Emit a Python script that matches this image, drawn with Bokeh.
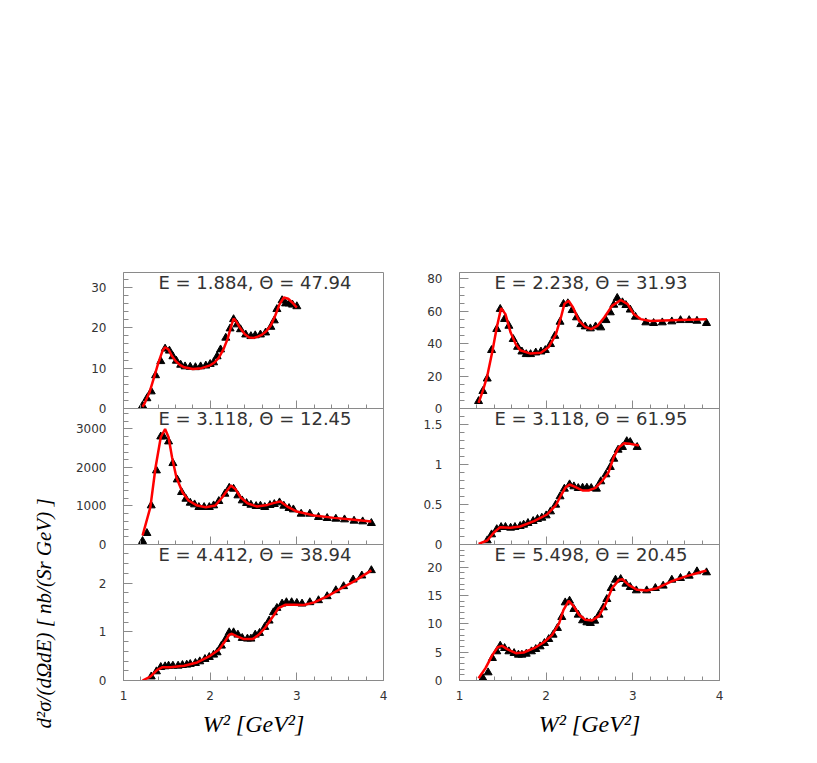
import math
from bokeh.plotting import figure
from bokeh.layouts import column, row
from bokeh.models import SingleIntervalTicker, Label, NumeralTickFormatter
from bokeh.embed import file_html
from bokeh.resources import INLINE

# ---------------- data ----------------
titles = ["E = 1.884,  \u0398 = 47.94", "E = 2.238,  \u0398 = 31.93",
          "E = 3.118,  \u0398 = 12.45", "E = 3.118,  \u0398 = 61.95",
          "E = 4.412,  \u0398 = 38.94", "E = 5.498,  \u0398 = 20.45"]
x_label = "W\u00b2 [GeV\u00b2]"
y_label = "d\u00b2\u03c3/(d\u03a9dE) [ nb/(Sr GeV) ]"

# panel 1 (E=1.884)
tl_w2 = [1.22, 1.27, 1.32, 1.37, 1.43, 1.48, 1.53, 1.57, 1.61, 1.66, 1.71, 1.77, 1.83, 1.89, 1.95, 2.00, 2.04,
         2.08, 2.12, 2.18, 2.23, 2.27, 2.31, 2.35, 2.41, 2.47, 2.52, 2.58, 2.64, 2.70, 2.74, 2.77, 2.83, 2.87,
         2.91, 2.95, 3.00]
tl_xs = [0.7, 2.5, 4.2, 8.2, 11.7, 14.8, 14.3, 12.9, 11.8, 10.8, 10.4, 10.3, 10.2, 10.4, 10.6, 11.0, 11.4,
         12.9, 14.6, 17.5, 19.8, 22.1, 20.8, 19.6, 18.3, 17.9, 18.1, 18.3, 18.8, 20.2, 21.8, 24.6, 26.8, 26.0,
         26.0, 25.7, 25.3]
tl_fit_w2 = [1.22, 1.25, 1.30, 1.35, 1.40, 1.45, 1.48, 1.52, 1.56, 1.60, 1.65, 1.70, 1.80, 1.90, 2.00, 2.05,
             2.10, 2.15, 2.20, 2.24, 2.27, 2.30, 2.35, 2.40, 2.45, 2.50, 2.55, 2.60, 2.65, 2.70, 2.75, 2.80,
             2.85, 2.90, 2.95, 3.00]
tl_fit = [0.4, 1.6, 4.0, 7.5, 11.2, 14.3, 15.2, 14.6, 13.0, 11.8, 10.8, 10.2, 9.8, 10.0, 10.7, 11.4, 12.6,
          14.5, 17.2, 20.2, 22.3, 21.6, 19.8, 18.4, 17.6, 17.5, 17.8, 18.3, 19.2, 20.6, 23.0, 25.8, 27.5,
          27.2, 26.2, 25.0]

# panel 2 (E=2.238)
tr_w2 = [1.22, 1.27, 1.32, 1.37, 1.43, 1.47, 1.52, 1.57, 1.62, 1.67, 1.72, 1.77, 1.82, 1.88, 1.94, 1.99,
         2.05, 2.10, 2.16, 2.20, 2.25, 2.30, 2.35, 2.40, 2.45, 2.51, 2.57, 2.63, 2.69, 2.74, 2.78, 2.82,
         2.88, 2.92, 2.97, 3.03, 3.15, 3.24, 3.34, 3.45, 3.55, 3.65, 3.74, 3.85]
tr_xs = [4.5, 10.7, 18.4, 36.0, 49.0, 61.4, 55.2, 51.0, 42.8, 38.0, 35.1, 33.5, 33.5, 34.5, 35.1, 36.0,
         39.7, 44.8, 53.5, 64.5, 64.9, 60.7, 56.2, 52.0, 50.6, 49.4, 50.6, 50.0, 54.5, 59.3, 64.0, 68.2,
         65.5, 63.8, 61.0, 56.6, 53.1, 52.7, 53.1, 53.7, 54.5, 54.5, 54.1, 52.7]
tr_fit_w2 = [1.22, 1.27, 1.32, 1.38, 1.43, 1.48, 1.53, 1.59, 1.65, 1.70, 1.82, 1.94, 2.03, 2.11, 2.17,
             2.21, 2.26, 2.31, 2.38, 2.45, 2.52, 2.59, 2.67, 2.76, 2.86, 2.94, 3.01, 3.09, 3.20, 3.44, 3.85]
tr_fit = [3.5, 11.0, 20.0, 35.5, 50.0, 62.0, 58.3, 46.9, 39.7, 36.0, 33.9, 34.5, 38.0, 45.5, 56.2, 64.5,
          66.5, 62.4, 54.1, 50.4, 49.0, 51.0, 56.2, 63.4, 67.0, 64.5, 58.3, 55.2, 54.1, 54.5, 55.2]

# panel 3 (E=3.118, 12.45)
ml_w2 = [1.22, 1.27, 1.32, 1.38, 1.43, 1.46, 1.52, 1.57, 1.62, 1.67, 1.72, 1.77, 1.82, 1.87, 1.93, 1.99,
         2.04, 2.10, 2.17, 2.22, 2.27, 2.32, 2.37, 2.42, 2.47, 2.53, 2.58, 2.63, 2.69, 2.74, 2.80, 2.85,
         2.91, 2.96, 3.05, 3.15, 3.25, 3.35, 3.45, 3.55, 3.66, 3.76, 3.86]
ml_xs = [86, 294, 1011, 1919, 2800, 2800, 2671, 2109, 1685, 1357, 1184, 1080, 1037, 968, 968, 968,
         1011, 1124, 1314, 1469, 1443, 1271, 1141, 1072, 1028, 994, 1003, 968, 1020, 1046, 1089, 1003,
         942, 907, 795, 795, 709, 683, 666, 648, 614, 596, 553]
ml_fit_w2 = [1.22, 1.31, 1.37, 1.43, 1.48, 1.52, 1.56, 1.61, 1.68, 1.75, 1.85, 1.95, 2.06, 2.14, 2.20,
             2.24, 2.29, 2.35, 2.43, 2.54, 2.66, 2.74, 2.81, 2.89, 3.00, 3.20, 3.43, 3.66, 3.86]
ml_fit = [233, 968, 2005, 2783, 2999, 2783, 2264, 1746, 1357, 1141, 1011, 968, 1011, 1227, 1417, 1530,
          1443, 1227, 1072, 985, 1028, 1080, 1115, 985, 856, 752, 691, 640, 596]

# panel 4 (E=3.118, 61.95)
mr_w2 = [1.32, 1.37, 1.43, 1.48, 1.53, 1.59, 1.64, 1.70, 1.74, 1.79, 1.85, 1.90, 1.95, 2.00, 2.05, 2.11,
         2.16, 2.21, 2.27, 2.32, 2.37, 2.42, 2.47, 2.52, 2.58, 2.63, 2.69, 2.74, 2.78, 2.83, 2.88, 2.93,
         2.97, 3.05]
mr_xs = [0.05, 0.125, 0.19, 0.217, 0.217, 0.208, 0.217, 0.229, 0.246, 0.267, 0.292, 0.317, 0.333, 0.362,
         0.412, 0.496, 0.60, 0.696, 0.75, 0.725, 0.704, 0.708, 0.708, 0.704, 0.696, 0.788, 0.875, 0.967,
         1.07, 1.183, 1.217, 1.29, 1.279, 1.217]
mr_fit_w2 = [1.22, 1.32, 1.40, 1.47, 1.59, 1.70, 1.86, 2.01, 2.11, 2.17, 2.22, 2.27, 2.34, 2.42, 2.49,
             2.57, 2.65, 2.72, 2.78, 2.84, 2.90, 2.97, 3.07]
mr_fit = [0.008, 0.05, 0.154, 0.217, 0.208, 0.225, 0.292, 0.375, 0.488, 0.612, 0.708, 0.75, 0.717,
          0.675, 0.675, 0.708, 0.80, 0.904, 1.092, 1.217, 1.267, 1.258, 1.238]

# panel 5 (E=4.412)
bl_w2 = [1.32, 1.38, 1.43, 1.48, 1.52, 1.57, 1.63, 1.68, 1.73, 1.77, 1.83, 1.88, 1.94, 1.99, 2.04, 2.08,
         2.13, 2.18, 2.22, 2.27, 2.32, 2.37, 2.43, 2.47, 2.52, 2.57, 2.63, 2.68, 2.73, 2.77, 2.83, 2.88,
         2.94, 3.00, 3.06, 3.15, 3.25, 3.35, 3.45, 3.54, 3.65, 3.75, 3.86]
bl_xs = [0.08, 0.185, 0.274, 0.288, 0.301, 0.301, 0.301, 0.315, 0.322, 0.336, 0.356, 0.390, 0.438, 0.479,
         0.527, 0.575, 0.712, 0.849, 0.986, 0.986, 0.938, 0.870, 0.856, 0.856, 0.938, 0.973, 1.096, 1.226,
         1.397, 1.486, 1.575, 1.603, 1.603, 1.589, 1.575, 1.603, 1.644, 1.726, 1.849, 1.932, 2.068, 2.151,
         2.26]
bl_fit_w2 = [1.22, 1.31, 1.39, 1.45, 1.54, 1.70, 1.85, 2.00, 2.10, 2.17, 2.22, 2.25, 2.31, 2.39, 2.49,
             2.56, 2.64, 2.72, 2.79, 2.87, 2.97, 3.08, 3.20, 3.35, 3.50, 3.66, 3.86]
bl_fit = [0.0, 0.08, 0.22, 0.274, 0.274, 0.301, 0.37, 0.507, 0.63, 0.80, 0.938, 0.959, 0.904, 0.849,
          0.849, 0.938, 1.096, 1.301, 1.486, 1.555, 1.555, 1.548, 1.603, 1.726, 1.877, 2.034, 2.26]

# panel 6 (E=5.498)
br_w2 = [1.27, 1.33, 1.38, 1.43, 1.47, 1.52, 1.57, 1.63, 1.68, 1.72, 1.77, 1.83, 1.88, 1.93, 1.98, 2.03,
         2.08, 2.13, 2.18, 2.22, 2.27, 2.32, 2.37, 2.42, 2.47, 2.51, 2.56, 2.61, 2.66, 2.70, 2.75, 2.80,
         2.86, 2.92, 2.97, 3.04, 3.16, 3.26, 3.35, 3.45, 3.55, 3.65, 3.74, 3.85]
br_xs = [0.41, 1.41, 3.94, 5.12, 6.12, 5.70, 5.12, 4.82, 4.53, 4.53, 4.70, 5.12, 5.53, 6.00, 6.59, 7.29,
         8.06, 9.24, 11.18, 13.76, 14.06, 12.59, 11.59, 10.59, 10.24, 10.12, 10.53, 11.59, 12.88, 14.35,
         16.29, 17.76, 17.88, 17.06, 16.47, 15.88, 15.88, 16.29, 16.71, 17.76, 18.06, 18.47, 19.24, 19.06]
br_fit_w2 = [1.22, 1.30, 1.38, 1.44, 1.49, 1.55, 1.65, 1.74, 1.86, 1.97, 2.07, 2.15, 2.20, 2.26, 2.32,
             2.38, 2.45, 2.53, 2.61, 2.69, 2.76, 2.84, 2.88, 2.95, 3.05, 3.16, 3.28, 3.44, 3.63, 3.85]
br_fit = [0.41, 2.18, 4.53, 5.88, 6.12, 5.53, 4.82, 4.94, 5.70, 6.71, 8.06, 10.12, 12.47, 14.06, 13.06,
          11.59, 10.71, 10.59, 11.41, 13.65, 16.29, 17.76, 17.88, 16.88, 16.0, 15.88, 16.29, 17.47, 18.47,
          19.41]

y_max = [33.7, 84.0, 3530.0, 1.7, 2.79, 24.0]
y_step = [10, 20, 1000, 0.5, 1, 5]
y_minor = [5, 4, 5, 5, 5, 5]

panels = [(tl_w2, tl_xs, tl_fit_w2, tl_fit), (tr_w2, tr_xs, tr_fit_w2, tr_fit),
          (ml_w2, ml_xs, ml_fit_w2, ml_fit), (mr_w2, mr_xs, mr_fit_w2, mr_fit),
          (bl_w2, bl_xs, bl_fit_w2, bl_fit), (br_w2, br_xs, br_fit_w2, br_fit)]

FRAME_C = "#8a8a8a"
TEXT_C = "#333333"
LAB_W = 60      # width of the strip holding the y label
PAD = 7         # overlap strip between stacked panels
FRAME_H = 136


def make_panel(i):
    w2, xs, fw2, fit = panels[i]
    r, c = divmod(i, 2)
    mb_left, mb_right = (123 - LAB_W, 16) if c == 0 else (60, 20)
    mb_top = 272 if r == 0 else PAD
    mb_bottom = 62 if r == 2 else PAD
    p = figure(frame_width=260, frame_height=FRAME_H, x_range=(1, 4), y_range=(0, y_max[i]),
               min_border_left=mb_left, min_border_right=mb_right,
               min_border_top=mb_top, min_border_bottom=mb_bottom,
               output_backend="svg", toolbar_location=None, title=None)
    p.grid.visible = False
    p.outline_line_color = FRAME_C
    p.outline_line_width = 1
    p.background_fill_color = None
    p.border_fill_color = None

    xa = p.xaxis[0]
    xa.ticker = SingleIntervalTicker(interval=1, num_minor_ticks=5)
    xa.major_tick_in = 8
    xa.major_tick_out = 0
    xa.minor_tick_in = 4
    xa.minor_tick_out = 0
    xa.axis_line_color = FRAME_C
    xa.major_tick_line_color = FRAME_C
    xa.minor_tick_line_color = FRAME_C
    if r == 2:
        xa.major_label_text_font = "DejaVu Sans"
        xa.major_label_text_font_size = "12px"
        xa.major_label_text_color = TEXT_C
        xa.major_label_standoff = 10
        xa.axis_label = x_label
        xa.axis_label_text_font = "Liberation Serif"
        xa.axis_label_text_font_style = "italic"
        xa.axis_label_text_font_size = "24px"
        xa.axis_label_text_color = "black"
        xa.axis_label_standoff = 8
    else:
        xa.major_label_text_color = None
        xa.major_label_text_font_size = "1px"
        xa.major_label_standoff = 0

    ya = p.yaxis[0]
    ya.ticker = SingleIntervalTicker(interval=y_step[i], num_minor_ticks=y_minor[i])
    ya.major_tick_in = 9
    ya.major_tick_out = 0
    ya.minor_tick_in = 5
    ya.minor_tick_out = 0
    ya.axis_line_color = FRAME_C
    ya.major_tick_line_color = FRAME_C
    ya.minor_tick_line_color = FRAME_C
    ya.major_label_text_font = "DejaVu Sans"
    ya.major_label_text_font_size = "12px"
    ya.major_label_text_color = TEXT_C
    ya.major_label_standoff = 17
    ya.formatter = NumeralTickFormatter(format="0.[0]")

    p.scatter(w2, xs, marker="triangle", size=8, fill_color="black", line_color="black")
    p.line(fw2, fit, line_color="#ff0000", line_width=2.5)

    p.add_layout(Label(x=2.55, y=y_max[i], x_units="data", y_units="data", y_offset=-10,
                       text=titles[i], text_align="center", text_baseline="middle",
                       text_font="DejaVu Sans", text_font_size="18px", text_color=TEXT_C))
    return p


figs = [make_panel(i) for i in range(6)]
r1 = row(figs[0], figs[1])
r2 = row(figs[2], figs[3], margin=(-2 * PAD, 0, 0, 0))
r3 = row(figs[4], figs[5], margin=(-2 * PAD, 0, 0, 0))
grid = column(r1, r2, r3)

total_h = 272 + FRAME_H + PAD + (FRAME_H) + FRAME_H + 62
lab = figure(width=LAB_W, height=total_h, x_range=(0, 1), y_range=(0, 1),
             min_border=0, output_backend="svg", toolbar_location=None, title=None)
lab.axis.visible = False
lab.grid.visible = False
lab.outline_line_color = None
lab.background_fill_color = None
lab.border_fill_color = None
lab.add_layout(Label(x=43 / LAB_W, y=1 - 613 / total_h, x_units="data", y_units="data",
                     angle=math.pi / 2, text=y_label, text_align="center", text_baseline="middle",
                     text_font="Liberation Serif", text_font_style="italic",
                     text_font_size="21px", text_color="black"))

layout = row(lab, grid)
open("out.html", "w").write(file_html(layout, INLINE))
